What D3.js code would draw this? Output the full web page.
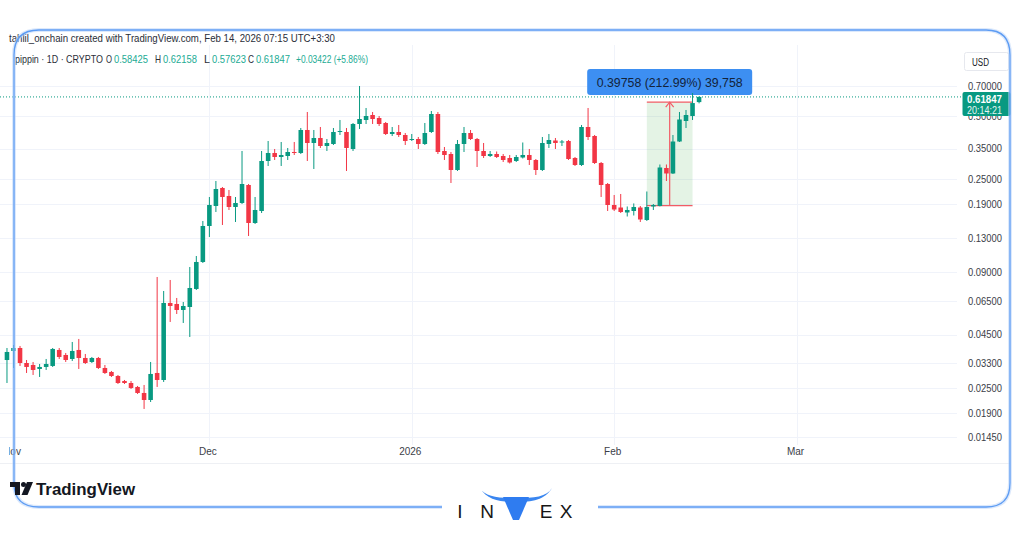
<!DOCTYPE html>
<html>
<head>
<meta charset="utf-8">
<script src="https://cdn.jsdelivr.net/npm/d3@7"></script>
<style>
    body { margin: 0; background: #fff; }
    svg { display: block; font-family: "Liberation Sans", Arial, sans-serif; }
</style>
</head>
<body>
<svg id="chart" width="1024" height="538"></svg>
<script>
//	daily candles, first one is Oct 31 2025, one per day after that
var firstDay = "2025-10-31";
var open = [0.0340, 0.03756, 0.03882, 0.03290, 0.03219, 0.03080, 0.03149, 0.03184, 0.03798, 0.03594,
    0.03439, 0.03798, 0.03477, 0.03327, 0.03477, 0.03114, 0.02980, 0.02851, 0.02698, 0.02639,
    0.02526, 0.02364, 0.02188, 0.02947, 0.02728, 0.06377, 0.06307, 0.05903, 0.06101, 0.07441,
    0.10021, 0.14903, 0.18580, 0.22659, 0.20746, 0.18377, 0.19205, 0.23421, 0.15404, 0.17583,
    0.30516, 0.33331, 0.31892, 0.32246, 0.33700, 0.33331, 0.42951, 0.37216, 0.39325, 0.36005,
    0.36808, 0.42014, 0.42014, 0.34834, 0.45889, 0.47957, 0.50675, 0.49027, 0.46397, 0.41099,
    0.42014, 0.40647, 0.3872, 0.38894, 0.36808, 0.42014, 0.51236, 0.34073, 0.32965, 0.27633,
    0.36808, 0.41554, 0.38894, 0.34073, 0.32246, 0.32965, 0.32246, 0.31543, 0.30516, 0.31717,
    0.32603, 0.30854, 0.27633, 0.36808, 0.38256, 0.37420, 0.38045, 0.31543, 0.29199, 0.44395,
    0.40202, 0.29851, 0.23681, 0.18786, 0.18272, 0.17296, 0.17583, 0.18272, 0.15922, 0.18480,
    0.18580, 0.28249, 0.26590, 0.37835, 0.47431, 0.50120, 0.58425];
var high = [0.03882, 0.04013, 0.03969, 0.03401, 0.03327, 0.03254, 0.03439, 0.03882, 0.03882, 0.03674,
    0.04148, 0.04288, 0.03634, 0.03516, 0.03516, 0.03219, 0.03013, 0.02883, 0.02728, 0.02698,
    0.02554, 0.02582, 0.03327, 0.08493, 0.07278, 0.08216, 0.06738, 0.06447, 0.09483, 0.10705,
    0.15747, 0.20519, 0.24477, 0.22910, 0.22165, 0.20519, 0.34073, 0.23681, 0.20519, 0.34073,
    0.38045, 0.34834, 0.37628, 0.35220, 0.37628, 0.43909, 0.52381, 0.42951, 0.44395, 0.38894,
    0.43909, 0.47957, 0.43909, 0.46397, 0.69769, 0.54742, 0.52381, 0.50120, 0.46911, 0.44395,
    0.45385, 0.41554, 0.41099, 0.39761, 0.46397, 0.52960, 0.52381, 0.35610, 0.33700, 0.38467,
    0.44395, 0.42951, 0.39325, 0.37216, 0.34073, 0.33885, 0.32965, 0.32603, 0.32603, 0.37420,
    0.34834, 0.31196, 0.39761, 0.41099, 0.39325, 0.38467, 0.38467, 0.31892, 0.45385, 0.54742,
    0.40647, 0.30181, 0.23943, 0.20976, 0.21208, 0.18480, 0.19112, 0.18580, 0.21801, 0.18995,
    0.29360, 0.29360, 0.40647, 0.52381, 0.53547, 0.64587, 0.62158];
var low = [0.02639, 0.03114, 0.03184, 0.02947, 0.02883, 0.02820, 0.03046, 0.03149, 0.03439, 0.03327,
    0.03364, 0.03080, 0.03254, 0.03290, 0.03080, 0.02915, 0.02820, 0.02610, 0.02610, 0.02471,
    0.02338, 0.01982, 0.02140, 0.02526, 0.02669, 0.05172, 0.05648, 0.05115, 0.04383, 0.07359,
    0.09911, 0.13201, 0.17390, 0.15068, 0.17778, 0.15575, 0.18995, 0.13347, 0.15235, 0.17200,
    0.28879, 0.30854, 0.28879, 0.30854, 0.32603, 0.32965, 0.30516, 0.27940, 0.35220, 0.34073,
    0.36404, 0.40647, 0.27330, 0.34073, 0.43428, 0.45889, 0.45889, 0.44888, 0.40647, 0.40202,
    0.39761, 0.36404, 0.38045, 0.34834, 0.36404, 0.41554, 0.32965, 0.30854, 0.23943, 0.27330,
    0.33700, 0.38467, 0.28563, 0.31543, 0.31892, 0.31543, 0.30181, 0.29689, 0.30181, 0.31370,
    0.29199, 0.26151, 0.27330, 0.35220, 0.34834, 0.36005, 0.30854, 0.28879, 0.28879, 0.38467,
    0.29524, 0.20519, 0.17583, 0.17583, 0.17200, 0.16550, 0.16733, 0.15575, 0.15747, 0.17778,
    0.18500, 0.24477, 0.26441, 0.37628, 0.43909, 0.47957, 0.57623];
var close = [0.03715, 0.03882, 0.03290, 0.03149, 0.03046, 0.03149, 0.03254, 0.03840, 0.03516, 0.03401,
    0.03756, 0.03477, 0.03290, 0.03477, 0.03114, 0.02947, 0.02851, 0.02639, 0.02639, 0.02498,
    0.02364, 0.02188, 0.02915, 0.02728, 0.06377, 0.06169, 0.05903, 0.06169, 0.07523, 0.10021,
    0.14903, 0.18786, 0.22411, 0.20519, 0.18377, 0.19205, 0.23681, 0.15404, 0.17778, 0.30516,
    0.33331, 0.31892, 0.32603, 0.33700, 0.33331, 0.42951, 0.37216, 0.39325, 0.36005, 0.37216,
    0.42014, 0.42480, 0.35220, 0.45889, 0.48490, 0.50120, 0.48490, 0.45889, 0.41099, 0.42014,
    0.40647, 0.38045, 0.3889, 0.36808, 0.41554, 0.51236, 0.33700, 0.32603, 0.27633, 0.36808,
    0.41554, 0.38894, 0.34073, 0.32246, 0.32965, 0.31892, 0.30854, 0.30017, 0.31892, 0.32603,
    0.30854, 0.27633, 0.37216, 0.38467, 0.37216, 0.37835, 0.31196, 0.29199, 0.44395, 0.39761,
    0.29851, 0.23421, 0.18786, 0.17876, 0.17390, 0.17778, 0.18377, 0.16010, 0.18377, 0.18786,
    0.28406, 0.26590, 0.37835, 0.48221, 0.50675, 0.5780, 0.61847];

//	axis ticks
var yTicks = [0.7, 0.5, 0.35, 0.25, 0.19, 0.13, 0.09, 0.065, 0.045, 0.033, 0.025, 0.019, 0.0145];
var monthTicks = ["2025-11-01", "2025-12-01", "2026-01-01", "2026-02-01", "2026-03-01"];
var monthLabels = ["Nov", "Dec", "2026", "Feb", "Mar"];

//	price range tool + last price
var measureFrom = "2026-02-06", measureTo = "2026-02-13";
var measureLow = 0.18667, measureHigh = 0.58425, measureTicks = 39758;
var lastPrice = 0.61847, countdown = "20:14:21";

var headerLine = "tahlil_onchain created with TradingView.com, Feb 14, 2026 07:15 UTC+3:30";
var symbolLine = "pippin · 1D · CRYPTO";
var ohlcKeys = ["O", "H", "L", "C"];
var ohlcVals = ["0.58425", "0.62158", "0.57623", "0.61847"];
var changeText = "+0.03422 (+5.86%)";

var UP = "#089981", DOWN = "#f23645";
var parse = d3.utcParse("%Y-%m-%d");

var svg = d3.select("#chart");
svg.append("rect").attr("width", 1024).attr("height", 538).attr("fill", "#fff");

//	scales
var x = d3.scaleUtc()
        .domain([parse(monthTicks[0]), parse(monthTicks[4])])
        .range([13.5, 797]);
var y = d3.scaleLog()
        .domain([0.0145, 0.7])
        .range([437.3, 85.7]);
var dayW = x(parse("2025-11-02")) - x(parse("2025-11-01"));

var start = parse(firstDay);
var candles = open.map(function (o, i) {
    return {date: d3.utcDay.offset(start, i), o: o, h: high[i], l: low[i], c: close[i]};
});

//	squeeze a text into the width it has in the picture
function fit(sel, w) {
    sel.attr("textLength", w).attr("lengthAdjust", "spacingAndGlyphs");
}

//	grid
var grid = svg.append("g");
grid.selectAll(".hg").data(yTicks).enter().append("line")
        .attr("x1", 0).attr("x2", 957)
        .attr("y1", function (d) { return Math.round(y(d)) + 0.5; })
        .attr("y2", function (d) { return Math.round(y(d)) + 0.5; })
        .attr("stroke", "#f0f3fa");
grid.selectAll(".vg").data(monthTicks).enter().append("line")
        .attr("x1", function (d) { return Math.round(x(parse(d))) + 0.5; })
        .attr("x2", function (d) { return Math.round(x(parse(d))) + 0.5; })
        .attr("y1", 45).attr("y2", 445)
        .attr("stroke", "#f0f3fa");
svg.append("line").attr("x1", 0).attr("x2", 1010).attr("y1", 463.5).attr("y2", 463.5)
        .attr("stroke", "#eef0f4");

svg.append("clipPath").attr("id", "plot")
        .append("rect").attr("x", 4).attr("y", 45).attr("width", 953).attr("height", 402);
svg.append("clipPath").attr("id", "taxis")
        .append("rect").attr("x", 9).attr("y", 440).attr("width", 950).attr("height", 22);

//	price range measurement
var meas = svg.append("g");
var mx0 = x(parse(measureFrom)), mx1 = x(parse(measureTo));
var myTop = y(measureHigh), myBot = y(measureLow), mxc = (mx0 + mx1) / 2;
meas.append("rect")
        .attr("x", mx0).attr("y", myTop)
        .attr("width", mx1 - mx0).attr("height", myBot - myTop)
        .attr("fill", "#4caf50").attr("fill-opacity", 0.15);
meas.selectAll(".ml").data([measureHigh, measureLow]).enter().append("line")
        .attr("x1", mx0).attr("x2", mx1)
        .attr("y1", function (d) { return y(d); })
        .attr("y2", function (d) { return y(d); })
        .attr("stroke", "#f25c66").attr("stroke-width", 1.2);
meas.append("line")
        .attr("x1", mxc).attr("x2", mxc).attr("y1", myBot).attr("y2", myTop)
        .attr("stroke", "#f25c66").attr("stroke-width", 1.2);
meas.append("path")
        .attr("d", "M" + (mxc - 4) + "," + (myTop + 5) + "L" + mxc + "," + myTop + "L" + (mxc + 4) + "," + (myTop + 5))
        .attr("fill", "none").attr("stroke", "#f25c66").attr("stroke-width", 1.2);

//	last price dotted line
svg.append("line")
        .attr("x1", 0).attr("x2", 962)
        .attr("y1", y(lastPrice)).attr("y2", y(lastPrice))
        .attr("stroke", UP).attr("stroke-dasharray", "1,2");

//	candles
var cg = svg.append("g").attr("clip-path", "url(#plot)");
var candle = cg.selectAll(".candle").data(candles).enter().append("g");
candle.append("line")
        .attr("x1", function (d) { return x(d.date); })
        .attr("x2", function (d) { return x(d.date); })
        .attr("y1", function (d) { return y(d.h); })
        .attr("y2", function (d) { return y(d.l); })
        .attr("stroke", function (d) { return d.c >= d.o ? UP : DOWN; })
        .attr("stroke-width", 1);
candle.append("rect")
        .attr("x", function (d) { return x(d.date) - dayW * 0.35; })
        .attr("width", dayW * 0.7)
        .attr("y", function (d) { return y(Math.max(d.o, d.c)); })
        .attr("height", function (d) { return Math.max(1, Math.abs(y(d.o) - y(d.c))); })
        .attr("fill", function (d) { return d.c >= d.o ? UP : DOWN; });

//	measurement label
var lblW = 165;
meas.append("rect")
        .attr("x", mxc - lblW / 2).attr("y", 69).attr("width", lblW).attr("height", 26)
        .attr("rx", 3).attr("fill", "#3d8ff2");
meas.append("text")
        .attr("x", mxc).attr("y", 86.5)
        .attr("text-anchor", "middle")
        .attr("font-size", 12).attr("fill", "#13233a")
        .text(d3.format(".5f")(measureHigh - measureLow) + " (" +
                d3.format(".2f")((measureHigh - measureLow) / measureLow * 100) + "%) " +
                d3.format(",")(measureTicks))
        .call(fit, 146);

//	price axis
var yAxis = svg.append("g")
        .attr("transform", "translate(968,0)")
        .call(d3.axisRight(y).tickValues(yTicks).tickSize(0).tickPadding(0)
                .tickFormat(d3.format(".5f")));
yAxis.select(".domain").remove();
yAxis.selectAll("text").attr("font-size", 10.5).attr("fill", "#3b3e48")
        .style("font-family", "'Liberation Sans', Arial, sans-serif")
        .call(fit, 34);

svg.append("rect").attr("x", 964.5).attr("y", 52.5).attr("width", 44).attr("height", 18)
        .attr("rx", 2).attr("fill", "#fff").attr("stroke", "#e6e8ee");
svg.append("text").attr("x", 972).attr("y", 65.5).attr("font-size", 10)
        .attr("fill", "#131722").text("USD").call(fit, 17);

svg.append("rect").attr("x", 962.5).attr("y", 92).attr("width", 48).attr("height", 24)
        .attr("rx", 2).attr("fill", UP);
svg.append("text").attr("x", 967).attr("y", 102.5).attr("font-size", 10.5)
        .attr("font-weight", "bold").attr("fill", "#fff").text(lastPrice.toFixed(5)).call(fit, 35);
svg.append("text").attr("x", 967).attr("y", 113.5).attr("font-size", 10)
        .attr("fill", "#e6f5f1").text(countdown).call(fit, 35);

//	time axis
var xAxis = svg.append("g")
        .attr("clip-path", "url(#taxis)")
        .append("g")
        .attr("transform", "translate(0,448)")
        .call(d3.axisBottom(x).tickValues(monthTicks.map(parse)).tickSize(0).tickPadding(0)
                .tickFormat(function (d, i) { return monthLabels[i]; }));
xAxis.select(".domain").remove();
xAxis.selectAll("text").attr("font-size", 10).attr("fill", "#3b3e48")
        .attr("dx", -2)
        .style("font-family", "'Liberation Sans', Arial, sans-serif");

//	header
svg.append("text").attr("x", 9).attr("y", 41.5).attr("font-size", 11)
        .attr("fill", "#2a2e39").text(headerLine).call(fit, 326);
var sym = svg.append("g").attr("font-size", 10.5).attr("fill", "#2a2e39");
sym.append("text").attr("x", 15).attr("y", 62.5).text(symbolLine).call(fit, 88);
var keyX = [106, 155, 204, 248];
ohlcKeys.forEach(function (k, i) {
    sym.append("text").attr("x", keyX[i]).attr("y", 62.5).text(k).call(fit, 6);
    sym.append("text").attr("x", keyX[i] + 8).attr("y", 62.5)
            .attr("fill", "#22ab94").text(ohlcVals[i]).call(fit, 34);
});
sym.append("text").attr("x", 296).attr("y", 62.5).attr("fill", "#22ab94")
        .text(changeText).call(fit, 72);

//	frame
var frame = "M14,55 Q14,30 39,30 L986,30 Q1010,30 1010,55 L1010,483 Q1010,507 986,507 L39,507 Q14,507 14,483 Z";
svg.append("path").attr("d", frame).attr("fill", "none")
        .attr("stroke", "#b9d4fa").attr("stroke-width", 4).attr("stroke-opacity", 0.5);
svg.append("path").attr("d", frame).attr("fill", "none")
        .attr("stroke", "#5d9cf3").attr("stroke-width", 1.3);
svg.append("rect").attr("x", 442).attr("y", 500).attr("width", 156).attr("height", 38).attr("fill", "#fff");

//	TradingView logo
var tv = svg.append("g").attr("fill", "#131722");
tv.append("path").attr("d", "M10,482 H20 V495 H15 V487 H10 Z");
tv.append("circle").attr("cx", 23.5).attr("cy", 484.5).attr("r", 2.5);
tv.append("path").attr("d", "M27,482 H33 L27.5,495 H21.5 Z");
svg.append("text").attr("x", 36).attr("y", 494.5).attr("font-size", 16)
        .attr("font-weight", "bold").attr("fill", "#131722")
        .text("TradingView").call(fit, 99);

//	INVEX logo
var logo = svg.append("g");
logo.append("path")
        .attr("d", "M480,488 C487,500 500,502 516,502 C532,502 545,500 552,488 C547,497 534,498 516,498 C498,498 485,497 480,488 Z")
        .attr("fill", "#3a86f0");
logo.append("path").attr("d", "M503,497 H529 L519,520 H513 Z").attr("fill", "#2f7cf0");
var letters = [["I", 460], ["N", 487], ["E", 546], ["X", 566]];
logo.selectAll(".lt").data(letters).enter().append("text")
        .attr("x", function (d) { return d[1]; }).attr("y", 518)
        .attr("text-anchor", "middle").attr("font-size", 19)
        .attr("fill", "#161616").text(function (d) { return d[0]; });
</script>
</body>
</html>
